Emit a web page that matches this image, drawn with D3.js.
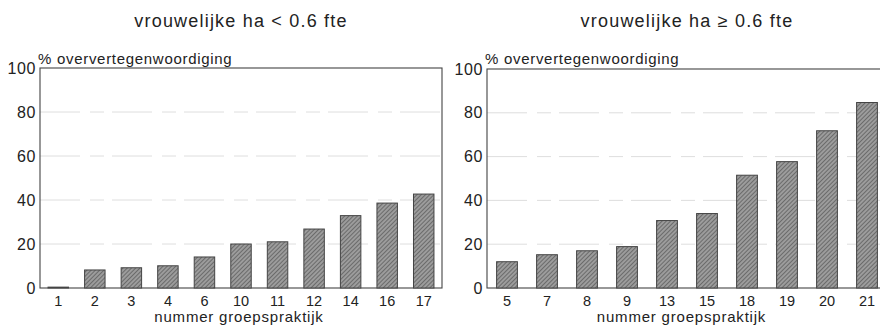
<!DOCTYPE html>
<html><head><meta charset="utf-8">
<script src="https://cdn.jsdelivr.net/npm/d3@7"></script>
<style>body{margin:0;background:#fff}svg{display:block}text{font-family:"Liberation Sans",Arial,sans-serif;fill:#222}</style>
</head><body>
<script>
const leftCategories = ["1","2","3","4","6","10","11","12","14","16","17"];
const leftValues = [0.4, 8.2, 9.2, 10.1, 14.1, 20, 21, 26.8, 32.9, 38.6, 42.7];
const rightCategories = ["5","7","8","9","13","15","18","19","20","21"];
const rightValues = [12, 15.2, 17, 18.9, 30.8, 34, 51.5, 57.7, 71.8, 84.7];
const yTicks = [0, 20, 40, 60, 80, 100];
const titles = ["vrouwelijke ha < 0.6 fte", "vrouwelijke ha \u2265 0.6 fte"];
const yLabel = "% oververtegenwoordiging";
const xLabel = "nummer groepspraktijk";

const svg = d3.select("body").append("svg").attr("width", 880).attr("height", 326);
const defs = svg.append("defs");
const pat = defs.append("pattern").attr("id","hatch").attr("patternUnits","userSpaceOnUse")
  .attr("width",3).attr("height",3).attr("patternTransform","rotate(45)");
pat.append("rect").attr("width",3).attr("height",3).attr("fill","#9c9c9c");
pat.append("line").attr("x1",0).attr("y1",0).attr("x2",0).attr("y2",3).attr("stroke","#4a4a4a").attr("stroke-width",1.2);

function panel(cats, vals, x0, x1, top, title, titleX, padding) {
  const g = svg.append("g");
  const x = d3.scaleBand().domain(cats).range([x0, x1]).paddingInner(padding).paddingOuter(padding/2);
  const y = d3.scaleLinear().domain([0, 100]).range([288, top]);
  // grid
  g.selectAll("line.grid").data(yTicks.filter(t => t > 0 && t < 100)).enter().append("line")
    .attr("x1", x0).attr("x2", x1).attr("y1", d => y(d)).attr("y2", d => y(d))
    .attr("stroke", "#c4c4c4").attr("stroke-width", 1).attr("stroke-dasharray", "40,10,14,8").attr("opacity", 0.55);
  // frame
  g.append("rect").attr("x", x0).attr("y", y(100)).attr("width", x1 - x0).attr("height", y(0) - y(100))
    .attr("fill", "none").attr("stroke", "#444").attr("stroke-width", 1.1);
  // bars
  g.selectAll("rect.bar").data(vals).enter().append("rect")
    .attr("x", (d, i) => x(cats[i])).attr("width", x.bandwidth())
    .attr("y", d => y(d)).attr("height", d => y(0) - y(d))
    .attr("fill", "url(#hatch)").attr("stroke", "#444").attr("stroke-width", 1);
  // y axis
  const ya = d3.axisLeft(y).tickValues(yTicks).tickSize(0).tickPadding(4);
  const yg = g.append("g").attr("transform", `translate(${x0},0)`).call(ya);
  yg.select(".domain").remove();
  yg.selectAll("text").style("font-size", "16px").style("letter-spacing", "0.6px").attr("fill", "#222");
  // x axis
  const xa = d3.axisBottom(x).tickSize(0).tickPadding(8);
  const xg = g.append("g").attr("transform", `translate(0,288)`).call(xa);
  xg.select(".domain").remove();
  xg.selectAll("text").style("font-size", "14.5px").attr("fill", "#222");
  // labels
  g.append("text").attr("x", titleX).attr("y", 27).attr("text-anchor", "middle")
    .style("font-size", "18px").style("letter-spacing", "1.2px").text(title);
  g.append("text").attr("x", x0 - 2).attr("y", 64).style("font-size", "15px").style("letter-spacing", "0.7px").text(yLabel);
  g.append("text").attr("x", (x0 + Math.min(x1, 880)) / 2 - 2).attr("y", 322).attr("text-anchor", "middle")
    .style("font-size", "15px").style("letter-spacing", "0.8px").text(xLabel);
}
panel(leftCategories, leftValues, 40, 442, 68, titles[0], 241, 0.44);
panel(rightCategories, rightValues, 487, 887, 69, titles[1], 687, 0.48);
</script>
</body></html>
